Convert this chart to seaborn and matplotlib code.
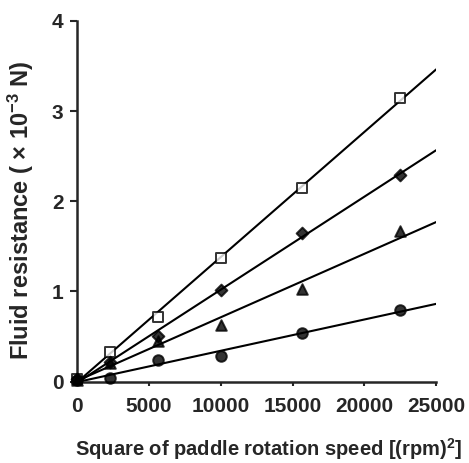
"""
Fluid resistance vs square of paddle rotation speed
"""
import seaborn as sns
import numpy as np
import matplotlib.pyplot as plt
import pandas as pd

# %% Data
speed_sq = [0, 2300, 5625, 10000, 15625, 22500]
res_square = [0.03, 0.33, 0.72, 1.37, 2.15, 3.14]
res_diamond = [0.03, 0.22, 0.50, 1.02, 1.65, 2.29]
res_triangle = [0.02, 0.20, 0.45, 0.63, 1.03, 1.67]
res_circle = [0.02, 0.04, 0.24, 0.28, 0.54, 0.79]
x_ticks = [0, 5000, 10000, 15000, 20000, 25000]
y_ticks = [0, 1, 2, 3, 4]

series = {
    'square': (res_square, 's', 'white', 44),
    'diamond': (res_diamond, 'D', 'black', 36),
    'triangle': (res_triangle, '^', 'black', 58),
    'circle': (res_circle, 'o', 'black', 58),
}

# %% Plot
sns.set_style('ticks')
plt.rcParams['font.family'] = ['Liberation Sans', 'DejaVu Sans']
plt.rcParams['font.weight'] = 'bold'
plt.rcParams['mathtext.fontset'] = 'custom'
plt.rcParams['mathtext.bf'] = 'Liberation Sans:bold'
plt.rcParams['mathtext.rm'] = 'Liberation Sans:bold'
plt.rcParams['mathtext.default'] = 'bf'

fig = plt.figure(figsize=(4.69, 4.63), dpi=100)
ax = fig.add_axes([0.165, 0.176, 0.765, 0.779])
ax.set_xlim(0, 25000)
ax.set_ylim(0, 4)

for name, (vals, mk, fc, size) in series.items():
    df = pd.DataFrame({'x': speed_sq, 'y': vals})
    sns.regplot(df, x='x', y='y', ci=None, truncate=False, ax=ax,
                marker=mk,
                scatter_kws=dict(s=size, facecolor=fc, edgecolor='black',
                                 linewidths=1.4, zorder=3, clip_on=False),
                line_kws=dict(color='black', lw=1.5, zorder=2))

ax.set_xlim(0, 25000)
ax.set_ylim(0, 4)
ax.set_xticks(x_ticks)
ax.set_yticks(y_ticks)
ax.tick_params(axis='both', labelsize=15, width=1.5, length=5, pad=5)
ax.tick_params(axis='x', length=3, pad=8)
for s in ['left', 'bottom']:
    ax.spines[s].set_linewidth(1.8)
sns.despine(ax=ax)

ax.set_xlabel('Square of paddle rotation speed [(rpm)$^{2}$]',
              fontsize=14.5, fontweight='bold')
ax.set_ylabel('Fluid resistance ( × 10$^{-3}$ N)',
              fontsize=17, fontweight='bold')
ax.xaxis.set_label_coords(0.533, -0.15)
ax.yaxis.set_label_coords(-0.115, 0.475)

fig.savefig('out.png', dpi=100)
